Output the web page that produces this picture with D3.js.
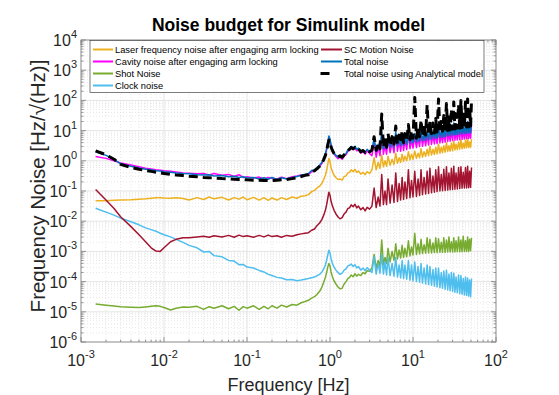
<!DOCTYPE html>
<html><head><meta charset="utf-8">
<script src="https://cdn.jsdelivr.net/npm/d3@7"></script>
<style>
body{margin:0;background:#fff}
svg{display:block;font-family:"Liberation Sans",Arial,Helvetica,sans-serif}
</style>
</head><body>
<svg id="chart" width="559" height="395"></svg>
<script>
// Frequencies [Hz] read along the x axis
const freq = [
  0.0015,0.002,0.0025,0.003,0.004,0.005,0.006,0.007,0.008,0.009,0.01,0.012,0.014,0.017,0.02,0.025,0.03,0.035,0.04,0.05,0.06,0.07,0.08,0.09,0.1,0.12,0.14,0.16,0.18,0.2,0.23,0.26,0.3,0.35,0.4,0.45,0.5,
  0.55,0.6,0.65,0.7,0.75,0.8,0.84,0.88,0.91,0.94,0.97,1.0,1.03,1.07,1.12,1.18,1.25,1.32,1.4,1.48,1.56,1.64,1.72,1.8,1.9,2.0,2.1,2.2,2.35,2.5,2.65,2.8,3.0,
  3.2,3.4,3.6,3.8,4.0,4.2,4.4,4.6,4.8,5.0,5.3,5.6,5.9,6.2,6.5,6.8,7.1,7.4,7.7,8.0,8.4,8.8,9.2,9.6,10,10.5,11,11.5,12,12.5,13,13.6,14.2,14.8,15.4,16,16.7,17.4,18.1,18.8,19.5,20.3,21.1,21.9,22.7,23.5,24.4,25.3,26.2,27.1,28,29,30,31,32,33,34.2,35.4,36.6,37.8,39,40.3,41.6,42.9,44.2,45.5,46.8,48.1,49.4,50.7
];

// Noise levels, stored as decade exponents (log10 of Hz/sqrt(Hz))
const laserLog = [
  -1.32,-1.32,-1.31,-1.30,-1.29,-1.27,-1.26,-1.24,-1.22,-1.22,-1.23,-1.24,-1.22,-1.25,-1.30,-1.22,-1.28,-1.20,-1.26,-1.21,-1.30,-1.22,-1.27,-1.20,-1.29,-1.21,-1.30,-1.22,-1.31,-1.23,-1.30,-1.22,-1.28,-1.20,-1.24,-1.17,-1.16,
  -1.12,-1.02,-0.98,-0.90,-0.84,-0.74,-0.62,-0.48,-0.32,-0.12,0.08,-0.02,-0.22,-0.36,-0.48,-0.56,-0.62,-0.60,-0.64,-0.52,-0.50,-0.40,-0.38,-0.30,-0.36,-0.28,-0.38,-0.34,-0.44,-0.38,-0.46,-0.36,-0.42,
  -0.30,0.10,-0.30,-0.05,-0.25,0.20,-0.20,0.00,-0.18,0.15,-0.15,0.05,-0.12,0.25,-0.08,0.10,-0.05,0.22,-0.02,0.15,0.00,0.30,0.03,0.22,0.05,0.32,0.08,0.25,0.10,0.40,0.12,0.30,0.15,0.38,0.17,0.48,0.19,0.38,0.21,0.45,0.23,0.55,0.25,0.45,0.27,0.50,0.29,0.60,0.31,0.50,0.32,0.58,0.34,0.65,0.36,0.55,0.37,0.62,0.39,0.70,0.40,0.58,0.42,0.68,0.43,0.75,0.44,0.62,0.45,0.72
];
const cavityLog = [
  0.14,0.08,0.00,-0.07,-0.14,-0.20,-0.25,-0.27,-0.30,-0.31,-0.33,-0.35,-0.37,-0.40,-0.41,-0.43,-0.42,-0.47,-0.42,-0.48,-0.45,-0.52,-0.46,-0.55,-0.53,-0.57,-0.54,-0.60,-0.55,-0.58,-0.60,-0.54,-0.59,-0.53,-0.50,-0.47,-0.46,
  -0.46,-0.36,-0.34,-0.26,-0.18,-0.09,0.04,0.18,0.36,0.58,0.78,0.68,0.48,0.34,0.22,0.14,0.07,0.12,0.05,0.15,0.20,0.31,0.35,0.43,0.37,0.43,0.33,0.37,0.25,0.31,0.22,0.33,0.24,
  0.17,0.65,0.12,0.45,0.17,0.85,0.22,0.50,0.22,0.70,0.27,0.60,0.27,0.85,0.32,0.65,0.32,0.75,0.34,0.70,0.37,0.90,0.40,0.72,0.42,0.80,0.44,0.75,0.47,0.95,0.48,0.80,0.50,0.85,0.52,1.00,0.54,0.85,0.56,0.90,0.57,1.05,0.59,0.90,0.60,0.95,0.62,1.10,0.64,0.95,0.65,1.00,0.67,1.15,0.68,0.98,0.69,1.05,0.70,1.18,0.71,1.02,0.72,1.12,0.73,1.20,0.74,1.08,0.75,1.20
];
const shotLog = [
  -4.74,-4.78,-4.81,-4.83,-4.85,-4.86,-4.84,-4.82,-4.80,-4.82,-4.86,-4.94,-4.88,-4.84,-4.85,-4.82,-4.92,-4.83,-4.88,-4.80,-4.90,-4.82,-4.95,-4.83,-4.88,-4.80,-4.92,-4.82,-4.90,-4.80,-4.88,-4.78,-4.84,-4.76,-4.78,-4.70,-4.66,
  -4.62,-4.55,-4.50,-4.42,-4.32,-4.18,-4.02,-3.86,-3.70,-3.52,-3.40,-3.48,-3.68,-3.84,-3.98,-4.08,-4.18,-4.24,-4.22,-4.08,-4.00,-3.90,-3.86,-3.78,-3.84,-3.74,-3.82,-3.76,-3.80,-3.70,-3.74,-3.64,-3.66,
  -3.55,-3.10,-3.55,-3.30,-3.50,-2.62,-3.45,-3.20,-3.40,-2.90,-3.35,-3.00,-3.30,-2.75,-3.25,-2.95,-3.22,-2.80,-3.20,-2.90,-3.18,-2.65,-3.15,-2.85,-3.12,-2.40,-3.10,-2.75,-3.08,-2.60,-3.07,-2.78,-3.06,-2.55,-3.05,-2.60,-3.05,-2.72,-3.04,-2.55,-3.04,-2.58,-3.03,-2.70,-3.03,-2.55,-3.03,-2.62,-3.02,-2.52,-3.02,-2.68,-3.02,-2.55,-3.02,-2.65,-3.01,-2.52,-3.01,-2.62,-3.01,-2.50,-3.00,-2.65,-3.00,-2.52,-3.00,-2.60,-2.98,-2.55
];
const clockLog = [
  -1.57,-1.70,-1.80,-1.90,-2.02,-2.12,-2.22,-2.28,-2.33,-2.40,-2.45,-2.52,-2.60,-2.70,-2.80,-2.88,-3.02,-3.00,-3.14,-3.18,-3.30,-3.32,-3.44,-3.43,-3.52,-3.55,-3.63,-3.68,-3.76,-3.80,-3.86,-3.88,-3.94,-3.93,-3.97,-3.95,-3.92,
  -3.90,-3.87,-3.85,-3.80,-3.76,-3.68,-3.58,-3.45,-3.30,-3.12,-2.96,-3.05,-3.24,-3.40,-3.52,-3.62,-3.70,-3.76,-3.72,-3.62,-3.58,-3.48,-3.46,-3.42,-3.50,-3.44,-3.55,-3.50,-3.62,-3.55,-3.64,-3.54,-3.62,
  -3.70,-3.18,-3.75,-3.40,-3.72,-3.10,-3.75,-3.35,-3.78,-3.20,-3.80,-3.40,-3.82,-3.20,-3.85,-3.45,-3.88,-3.30,-3.90,-3.45,-3.92,-3.30,-3.95,-3.45,-3.98,-3.35,-4.00,-3.50,-4.02,-3.40,-4.05,-3.55,-4.08,-3.45,-4.10,-3.50,-4.12,-3.60,-4.15,-3.55,-4.18,-3.55,-4.20,-3.70,-4.22,-3.65,-4.25,-3.62,-4.28,-3.75,-4.30,-3.70,-4.32,-3.72,-4.35,-3.85,-4.37,-3.78,-4.40,-3.80,-4.42,-3.90,-4.44,-3.85,-4.46,-3.88,-4.48,-3.95,-4.50,-3.90
];
const scMotionLog = [
  -0.95,-1.30,-1.58,-1.85,-2.18,-2.45,-2.68,-2.88,-2.99,-3.00,-2.88,-2.68,-2.60,-2.55,-2.55,-2.52,-2.50,-2.53,-2.48,-2.52,-2.47,-2.53,-2.46,-2.51,-2.48,-2.53,-2.47,-2.52,-2.46,-2.51,-2.48,-2.53,-2.47,-2.50,-2.45,-2.42,-2.40,
  -2.38,-2.30,-2.26,-2.14,-2.06,-1.94,-1.80,-1.64,-1.46,-1.24,-1.04,-1.14,-1.34,-1.50,-1.64,-1.76,-1.86,-1.92,-1.88,-1.76,-1.70,-1.58,-1.56,-1.46,-1.52,-1.44,-1.56,-1.50,-1.62,-1.55,-1.66,-1.54,-1.60,
  -1.50,-0.90,-1.55,-1.20,-1.50,-0.45,-1.45,-1.00,-1.45,-0.60,-1.40,-0.80,-1.38,-0.40,-1.35,-0.75,-1.30,-0.55,-1.28,-0.70,-1.25,-0.30,-1.22,-0.65,-1.20,-0.35,-1.18,-0.60,-1.15,-0.30,-1.12,-0.55,-1.10,-0.35,-1.08,-0.25,-1.06,-0.50,-1.04,-0.30,-1.02,-0.20,-1.00,-0.45,-0.99,-0.28,-0.98,-0.20,-0.97,-0.40,-0.96,-0.25,-0.95,-0.18,-0.94,-0.40,-0.93,-0.22,-0.92,-0.20,-0.91,-0.38,-0.90,-0.22,-0.90,-0.18,-0.89,-0.35,-0.88,-0.22
];
const totalLog = [
  0.30,0.18,0.05,-0.10,-0.18,-0.24,-0.28,-0.30,-0.33,-0.34,-0.36,-0.38,-0.40,-0.42,-0.43,-0.46,-0.47,-0.46,-0.50,-0.49,-0.53,-0.51,-0.55,-0.53,-0.57,-0.55,-0.60,-0.56,-0.61,-0.55,-0.62,-0.56,-0.60,-0.55,-0.52,-0.48,-0.45,
  -0.42,-0.32,-0.30,-0.22,-0.14,-0.05,0.08,0.22,0.40,0.62,0.82,0.72,0.52,0.38,0.26,0.18,0.12,0.16,0.10,0.20,0.24,0.36,0.40,0.48,0.42,0.48,0.38,0.42,0.30,0.36,0.28,0.38,0.30,
  0.35,0.75,0.30,0.55,0.35,0.95,0.40,0.60,0.40,0.80,0.45,0.70,0.45,0.95,0.50,0.75,0.50,0.85,0.52,0.80,0.55,1.00,0.58,0.82,0.60,0.90,0.62,0.85,0.65,1.05,0.66,0.90,0.68,0.95,0.70,1.10,0.72,0.95,0.74,1.00,0.75,1.15,0.77,1.00,0.78,1.05,0.80,1.20,0.82,1.05,0.83,1.10,0.85,1.25,0.86,1.08,0.87,1.15,0.88,1.28,0.89,1.12,0.90,1.22,0.91,1.30,0.92,1.18,0.93,1.30
];
const analyticalLog = [
  0.33,0.20,0.05,-0.12,-0.22,-0.28,-0.32,-0.35,-0.38,-0.40,-0.42,-0.45,-0.47,-0.49,-0.51,-0.53,-0.55,-0.56,-0.57,-0.59,-0.60,-0.61,-0.62,-0.62,-0.63,-0.64,-0.64,-0.65,-0.65,-0.65,-0.64,-0.63,-0.62,-0.59,-0.56,-0.52,-0.48,
  -0.46,-0.38,-0.33,-0.26,-0.18,-0.08,0.04,0.18,0.34,0.52,0.68,0.62,0.46,0.34,0.24,0.17,0.13,0.17,0.12,0.20,0.25,0.34,0.38,0.44,0.40,0.44,0.36,0.40,0.30,0.34,0.28,0.36,0.30,
  0.35,0.80,0.35,0.55,0.40,1.55,0.45,0.70,0.45,0.90,0.50,0.80,0.55,1.15,0.55,0.85,0.60,1.00,0.60,0.90,0.65,1.20,0.70,1.00,0.75,2.10,0.75,1.10,0.80,1.35,0.82,1.20,0.85,1.85,0.88,1.30,0.90,1.25,0.92,1.40,0.95,2.05,0.95,1.35,0.98,1.50,1.00,1.90,1.00,1.45,1.02,1.70,1.05,1.95,1.05,1.55,1.08,1.85,1.08,2.00,1.10,1.60,1.10,1.95,1.12,2.05,1.12,1.75,1.15,2.00
];

const seriesNames = [
  "Laser frequency noise after engaging arm locking",
  "Cavity noise after engaging arm locking",
  "Shot Noise",
  "Clock noise",
  "SC Motion Noise",
  "Total noise",
  "Total noise using Analytical model"
];
const seriesColors = ["#EDB120","#FF00FF","#77AC30","#4DBEEE","#A2142F","#0072BD","#000000"];
const seriesLogs = [laserLog, cavityLog, shotLog, clockLog, scMotionLog, totalLog, analyticalLog];

const xTickExps = [-3,-2,-1,0,1,2];
const yTickExps = [-6,-5,-4,-3,-2,-1,0,1,2,3,4];

const titleText = "Noise budget for Simulink model";
const xLabelText = "Frequency [Hz]";
const yLabelText = "Frequency Noise [Hz/\u221A(Hz)]";

// ---------- layout ----------
const svg = d3.select("#chart");
const P = {l:81, r:496, t:40, b:342};
const x = d3.scaleLog().domain([1e-3, 1e2]).range([P.l, P.r]);
const y = d3.scaleLog().domain([1e-6, 1e4]).range([P.b, P.t]);
const axisColor = "#7f7f7f";

svg.append("rect").attr("width",559).attr("height",395).attr("fill","#fff");

const minorX = [], minorY = [];
for (let e = -3; e < 2; e++) for (let k = 2; k <= 9; k++) minorX.push(k * Math.pow(10, e));
for (let e = -6; e < 4; e++) for (let k = 2; k <= 9; k++) minorY.push(k * Math.pow(10, e));
const majorX = xTickExps.map(e => Math.pow(10, e));
const majorY = yTickExps.map(e => Math.pow(10, e));

const grid = svg.append("g");
grid.selectAll(".mgx").data(minorX).join("line")
  .attr("x1", d => x(d)).attr("x2", d => x(d)).attr("y1", P.t).attr("y2", P.b)
  .attr("stroke", "#d6d6d6").attr("stroke-width", 0.6).attr("stroke-dasharray", "1,2");
grid.selectAll(".mgy").data(minorY).join("line")
  .attr("y1", d => y(d)).attr("y2", d => y(d)).attr("x1", P.l).attr("x2", P.r)
  .attr("stroke", "#d6d6d6").attr("stroke-width", 0.6).attr("stroke-dasharray", "1,2");
grid.selectAll(".Mgx").data(majorX).join("line")
  .attr("x1", d => x(d)).attr("x2", d => x(d)).attr("y1", P.t).attr("y2", P.b)
  .attr("stroke", "#dedede").attr("stroke-width", 0.8);
grid.selectAll(".Mgy").data(majorY).join("line")
  .attr("y1", d => y(d)).attr("y2", d => y(d)).attr("x1", P.l).attr("x2", P.r)
  .attr("stroke", "#dedede").attr("stroke-width", 0.8);

// data
svg.append("defs").append("clipPath").attr("id","plotclip")
  .append("rect").attr("x",P.l).attr("y",P.t).attr("width",P.r-P.l).attr("height",P.b-P.t);
const line = d3.line().x(d => x(d[0])).y(d => y(d[1]));
const dataG = svg.append("g").attr("clip-path","url(#plotclip)");
seriesLogs.forEach((arr, i) => {
  const n = Math.min(arr.length, freq.length);
  const pts = [];
  for (let j = 0; j < n; j++) pts.push([freq[j], Math.pow(10, arr[j])]);
  const isBlack = i === 6;
  dataG.append("path").datum(pts)
    .attr("d", line).attr("fill","none")
    .attr("stroke", seriesColors[i])
    .attr("stroke-width", isBlack ? 3 : 1.5)
    .attr("stroke-linejoin","round")
    .attr("stroke-dasharray", isBlack ? "9,5" : null);
});

// axes box and ticks (all four sides, inward)
const axG = svg.append("g").attr("stroke", axisColor).attr("stroke-width", 0.8);
axG.append("rect").attr("x",P.l).attr("y",P.t).attr("width",P.r-P.l).attr("height",P.b-P.t).attr("fill","none");
function tickX(vals, len){
  vals.forEach(v => {
    axG.append("line").attr("x1",x(v)).attr("x2",x(v)).attr("y1",P.b).attr("y2",P.b-len);
    axG.append("line").attr("x1",x(v)).attr("x2",x(v)).attr("y1",P.t).attr("y2",P.t+len);
  });
}
function tickY(vals, len){
  vals.forEach(v => {
    axG.append("line").attr("y1",y(v)).attr("y2",y(v)).attr("x1",P.l).attr("x2",P.l+len);
    axG.append("line").attr("y1",y(v)).attr("y2",y(v)).attr("x1",P.r).attr("x2",P.r-len);
  });
}
tickX(majorX, 5); tickX(minorX, 2.5);
tickY(majorY, 5); tickY(minorY, 2.5);

// tick labels
const tl = svg.append("g").attr("fill","#262626").attr("font-size",16);
xTickExps.forEach(e => {
  const t = tl.append("text").attr("x", x(Math.pow(10,e))).attr("y", 366).attr("text-anchor","middle");
  t.append("tspan").text("10");
  t.append("tspan").attr("font-size",11).attr("dy",-8).text(String(e));
});
yTickExps.forEach(e => {
  const t = tl.append("text").attr("x", 77).attr("y", y(Math.pow(10,e)) + 6).attr("text-anchor","end");
  t.append("tspan").text("10");
  t.append("tspan").attr("font-size",11).attr("dy",-8).text(String(e));
});

// title
svg.append("text").attr("x", (P.l+P.r)/2).attr("y", 31).attr("text-anchor","middle")
  .attr("font-size",17.5).attr("font-weight","bold").attr("fill","#000").text(titleText);

// y label
svg.append("text").attr("transform","translate(44.5,186) rotate(-90)")
  .attr("text-anchor","middle").attr("font-size",20.5).attr("fill","#262626").text(yLabelText);

// x label (kept fully inside the canvas)
svg.append("text").attr("x",(P.l+P.r)/2).attr("y",390.5).attr("text-anchor","middle")
  .attr("font-size",18).attr("fill","#262626").text(xLabelText);

// legend
const lg = svg.append("g");
lg.append("rect").attr("x",90).attr("y",40.5).attr("width",394).attr("height",52)
  .attr("fill","#fff").attr("stroke","#262626").attr("stroke-width",0.6);
const legendPos = [
  {c:0,r:0},{c:0,r:1},{c:0,r:2},{c:0,r:3},{c:1,r:0},{c:1,r:1},{c:1,r:2}
];
const colX = [[93,113,115],[321,342,344]];
const rowY = [49.5,61.5,73.5,85.5];
seriesNames.forEach((name, i) => {
  const p = legendPos[i];
  const [x1,x2,tx] = colX[p.c];
  const yy = rowY[p.r];
  if (i === 6) {
    lg.append("line").attr("x1",x1-0.5).attr("x2",x1+8.5).attr("y1",yy).attr("y2",yy)
      .attr("stroke","#000").attr("stroke-width",3);
  } else {
    lg.append("line").attr("x1",x1).attr("x2",x2).attr("y1",yy).attr("y2",yy)
      .attr("stroke",seriesColors[i]).attr("stroke-width",2);
  }
  lg.append("text").attr("x",tx).attr("y",yy+3.3).attr("font-size",9.3).attr("fill","#000").text(name);
});
</script>
</body></html>
